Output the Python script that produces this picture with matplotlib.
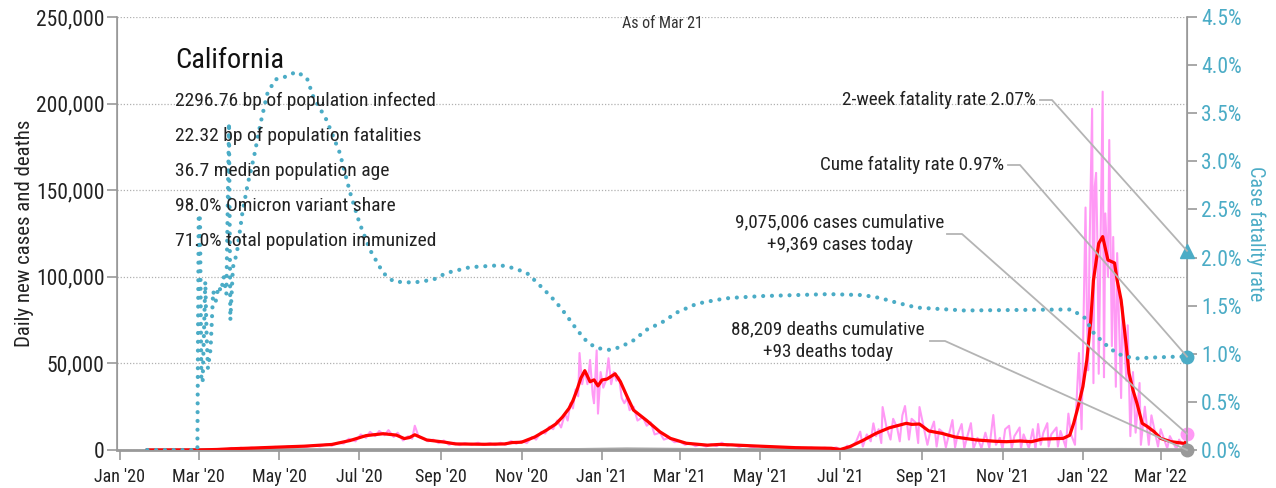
import matplotlib
matplotlib.use("Agg")
import matplotlib.pyplot as plt
import matplotlib.dates as mdates
from matplotlib import font_manager
from matplotlib.lines import Line2D
import pandas as pd
import numpy as np

# ---------------- data ----------------
avg_dates = ["2020-01-22","2020-03-01","2020-03-15","2020-03-25","2020-04-10","2020-05-01","2020-05-20",
    "2020-06-10","2020-06-24","2020-07-06","2020-07-19","2020-07-29","2020-08-04","2020-08-08","2020-08-12",
    "2020-08-21","2020-09-03","2020-09-12","2020-10-04","2020-10-19","2020-10-25","2020-11-01","2020-11-11",
    "2020-11-20","2020-11-27","2020-12-02","2020-12-07","2020-12-10","2020-12-13","2020-12-16","2020-12-19",
    "2020-12-23","2020-12-26","2020-12-29","2021-01-01","2021-01-05","2021-01-11","2021-01-15","2021-01-20",
    "2021-01-25","2021-02-04","2021-02-14","2021-02-22","2021-03-06","2021-03-22","2021-03-31","2021-04-08",
    "2021-04-28","2021-05-28","2021-06-24","2021-07-01","2021-07-08","2021-07-18","2021-07-28","2021-08-07",
    "2021-08-20","2021-08-24","2021-08-30","2021-09-06","2021-09-16","2021-09-26","2021-10-12","2021-10-27",
    "2021-11-04","2021-11-14","2021-11-23","2021-12-01","2021-12-17","2021-12-22","2021-12-25","2021-12-28",
    "2022-01-01","2022-01-04","2022-01-07","2022-01-09","2022-01-13","2022-01-16","2022-01-20","2022-01-25",
    "2022-01-27","2022-01-30","2022-02-03","2022-02-05","2022-02-08","2022-02-11","2022-02-15","2022-02-19",
    "2022-02-24","2022-03-01","2022-03-09","2022-03-19","2022-03-21"]
avg_cases = [0,50,300,700,1100,1700,2200,3200,5500,8300,9400,8600,6600,7200,8800,5800,4600,3500,3300,3500,
    4300,4500,7500,11500,15000,19000,24000,28500,34500,41500,45800,39400,40500,37000,40400,41000,44000,39500,
    31000,23000,17000,10500,6700,3900,2800,3200,3000,2300,1350,1000,300,1900,5500,9600,12800,15400,14800,15000,
    11000,9600,7500,5800,5000,4800,5200,4800,6300,6700,8500,15400,24000,36600,52000,75000,98000,119300,123200,
    109700,108000,98000,86600,59600,44300,34600,27000,15400,13500,10600,6700,4800,3800,5500]

daily_dates = ["2020-01-22","2020-03-01","2020-03-12","2020-03-18","2020-03-22","2020-03-26","2020-03-29",
    "2020-04-02","2020-04-06","2020-04-10","2020-04-14","2020-04-18","2020-04-23","2020-04-28","2020-05-03",
    "2020-05-08","2020-05-12","2020-05-17","2020-05-22","2020-05-27","2020-06-01","2020-06-06","2020-06-10",
    "2020-06-15","2020-06-19","2020-06-23","2020-06-28","2020-07-02","2020-07-06","2020-07-09","2020-07-13",
    "2020-07-16","2020-07-20","2020-07-23","2020-07-27","2020-07-30","2020-08-03","2020-08-07","2020-08-10",
    "2020-08-12","2020-08-15","2020-08-19","2020-08-22","2020-08-26","2020-08-30","2020-09-03","2020-09-07",
    "2020-09-11","2020-09-15","2020-09-19","2020-09-24","2020-09-29","2020-10-03","2020-10-08","2020-10-12",
    "2020-10-16","2020-10-20","2020-10-24","2020-10-28","2020-11-01","2020-11-05","2020-11-09","2020-11-12",
    "2020-11-16","2020-11-19","2020-11-22","2020-11-25","2020-11-28","2020-12-01","2020-12-04","2020-12-06",
    "2020-12-08","2020-12-10","2020-12-12","2020-12-14","2020-12-15","2020-12-17","2020-12-19","2020-12-21",
    "2020-12-23","2020-12-25","2020-12-26","2020-12-28","2020-12-29","2020-12-31","2021-01-02","2021-01-04",
    "2021-01-06","2021-01-08","2021-01-10","2021-01-12","2021-01-14","2021-01-16","2021-01-18","2021-01-20",
    "2021-01-22","2021-01-25","2021-01-28","2021-02-01","2021-02-04","2021-02-07","2021-02-10","2021-02-14",
    "2021-02-17","2021-02-21","2021-02-25","2021-03-01","2021-03-05","2021-03-09","2021-03-13","2021-03-17",
    "2021-03-21","2021-03-25","2021-03-29","2021-04-02","2021-04-06","2021-04-10","2021-04-15","2021-04-20",
    "2021-04-25","2021-04-30","2021-05-05","2021-05-10","2021-05-15","2021-05-20","2021-05-25","2021-05-30",
    "2021-06-04","2021-06-09","2021-06-14","2021-06-19","2021-06-24","2021-06-28","2021-07-01","2021-07-04",
    "2021-07-06","2021-07-09","2021-07-13","2021-07-16","2021-07-18","2021-07-21","2021-07-24","2021-07-26",
    "2021-07-28","2021-07-30","2021-08-01","2021-08-02","2021-08-05","2021-08-08","2021-08-10","2021-08-13",
    "2021-08-15","2021-08-17","2021-08-19","2021-08-22","2021-08-24","2021-08-27","2021-08-29","2021-08-30",
    "2021-09-02","2021-09-05","2021-09-07","2021-09-10","2021-09-12","2021-09-14","2021-09-17","2021-09-19",
    "2021-09-24","2021-09-26","2021-09-28","2021-10-01","2021-10-03","2021-10-05","2021-10-08","2021-10-10",
    "2021-10-13","2021-10-16","2021-10-19","2021-10-22","2021-10-25","2021-10-27","2021-10-30","2021-11-01",
    "2021-11-03","2021-11-06","2021-11-08","2021-11-10","2021-11-14","2021-11-15","2021-11-17","2021-11-21",
    "2021-11-24","2021-11-26","2021-11-28","2021-11-30","2021-12-02","2021-12-05","2021-12-06","2021-12-08",
    "2021-12-12","2021-12-13","2021-12-15","2021-12-19","2021-12-21","2021-12-23","2021-12-26","2021-12-27",
    "2021-12-29","2021-12-31","2022-01-03","2022-01-04","2022-01-05","2022-01-06","2022-01-08","2022-01-09",
    "2022-01-10","2022-01-11","2022-01-12","2022-01-13","2022-01-16","2022-01-17","2022-01-18","2022-01-20",
    "2022-01-21","2022-01-23","2022-01-24","2022-01-26","2022-01-27","2022-01-30","2022-01-31","2022-02-03",
    "2022-02-04","2022-02-06","2022-02-08","2022-02-10","2022-02-13","2022-02-14","2022-02-17","2022-02-20",
    "2022-02-22","2022-02-27","2022-03-01","2022-03-06","2022-03-08","2022-03-13","2022-03-15","2022-03-20",
    "2022-03-21"]
daily_cases = [0,30,150,600,300,1200,600,1300,800,1400,900,1500,1200,1800,1300,2100,1500,2300,1800,2700,2100,
    3400,2500,4200,3700,6500,5000,9000,7000,10500,8000,11000,8500,11500,7500,10000,5500,8000,6500,14000,7500,
    6500,5000,6000,4000,5500,3000,4200,2800,4000,3000,4200,2900,4000,2800,4200,3000,5200,3600,5200,4000,7500,
    6000,10500,9500,13500,12000,17000,13000,21000,17000,27000,24000,35000,31000,56000,38000,46000,38000,52000,
    32000,27000,57500,21000,45000,36000,40000,53000,38000,45000,40000,42000,30000,27000,30000,23000,25000,17000,
    19000,14000,16000,9000,10000,6000,7000,4500,5000,3000,4000,2200,3200,2000,3300,2200,4200,2500,3200,1800,2800,
    1500,2300,1200,1900,900,1700,800,1500,700,1400,600,1300,800,1500,0,0,2500,1500,5000,10600,2000,9000,5000,
    15400,8000,12000,4000,24800,13000,6000,18000,13000,5000,20000,25400,6000,18000,16000,4000,24800,14000,3000,
    10000,16400,2000,12000,10000,1500,17300,1500,9000,15000,1000,7000,15500,800,7000,1000,10000,1200,20200,3000,
    7000,500,12000,14000,1000,8000,13000,800,9000,1000,12000,500,15000,3000,10000,15500,2000,9000,13000,2000,
    11000,1500,21000,9000,3000,25000,56000,12000,140000,80000,46000,114500,197000,38600,152000,160000,120000,
    44000,206900,42000,136600,100000,179000,60000,123000,36500,113700,30000,82700,40000,72000,8000,45000,10000,
    38700,3000,25000,3000,20000,2000,12000,1000,8000,500,6000,500,9369]

death_dates = ["2020-01-22","2020-04-15","2020-08-01","2020-12-15","2021-01-20","2021-03-15","2021-08-30",
               "2022-01-30","2022-03-21"]
death_avg = [0,80,130,150,500,150,90,200,93]

rate_dates = ["2020-01-22","2020-02-29","2020-03-01","2020-03-02","2020-03-03","2020-03-04","2020-03-06",
    "2020-03-07","2020-03-08","2020-03-10","2020-03-12","2020-03-14","2020-03-16","2020-03-18","2020-03-20",
    "2020-03-22","2020-03-24","2020-03-25","2020-03-27","2020-03-30","2020-04-03","2020-04-07","2020-04-12",
    "2020-04-17","2020-04-22","2020-04-28","2020-05-06","2020-05-14","2020-05-22","2020-05-27","2020-06-06",
    "2020-06-16","2020-06-24","2020-07-01","2020-07-09","2020-07-19","2020-07-27","2020-08-11","2020-08-26",
    "2020-09-05","2020-09-23","2020-10-16","2020-10-26","2020-11-05","2020-11-12","2020-11-20","2020-11-27",
    "2020-12-04","2020-12-13","2020-12-21","2020-12-28","2021-01-07","2021-01-15","2021-01-25","2021-02-04",
    "2021-02-16","2021-02-27","2021-03-14","2021-03-29","2021-04-08","2021-05-03","2021-06-22","2021-07-18",
    "2021-07-31","2021-08-13","2021-08-28","2021-10-03","2021-12-17","2021-12-23","2022-01-02","2022-01-09",
    "2022-01-17","2022-01-27","2022-02-09","2022-02-21","2022-03-13","2022-03-21"]
rate_pct = [0,0,2.45,2.40,0.75,0.70,1.75,1.20,0.85,1.05,1.65,1.55,1.70,1.65,1.80,1.62,3.40,1.35,1.90,2.05,
    2.45,2.75,3.05,3.40,3.70,3.85,3.88,3.93,3.87,3.67,3.43,3.09,2.67,2.36,2.08,1.84,1.75,1.74,1.77,1.84,1.90,
    1.92,1.89,1.84,1.75,1.64,1.54,1.42,1.25,1.12,1.06,1.04,1.07,1.14,1.25,1.33,1.43,1.52,1.56,1.58,1.60,1.62,
    1.61,1.58,1.53,1.48,1.45,1.46,1.46,1.38,1.22,1.11,1.00,0.95,0.96,0.97,0.97]

two_week_rate = 2.07
cume_rate = 0.97
cases_today = 9369
deaths_today = 93

info_title = "California"
info_lines = ["2296.76 bp of population infected",
              "22.32 bp of population fatalities",
              "36.7 median population age",
              "98.0% Omicron variant share",
              "71.0% total population immunized"]
lbl_2wk = "2-week fatality rate 2.07%"
lbl_cume = "Cume fatality rate 0.97%"
lbl_cases = "9,075,006 cases cumulative\n+9,369 cases today"
lbl_deaths = "88,209 deaths cumulative\n+93 deaths today"

# ---------------- style ----------------
def pick_font(cands):
    for c in cands:
        try:
            font_manager.findfont(font_manager.FontProperties(family=c), fallback_to_default=False)
            return c
        except Exception:
            pass
    return "DejaVu Sans"

FONT = pick_font(["Liberation Sans Narrow", "Roboto Condensed", "Open Sans Condensed", "Roboto"])
plt.rcParams['font.family'] = [FONT, 'DejaVu Sans']

TEAL = "#4bacc6"
PINK = "#ff99f5"
RED = "#ff0000"
GRAY = "#a6a6a6"
W, H = 1276, 488

fig = plt.figure(figsize=(W/100, H/100), dpi=100)
fig.patch.set_facecolor("white")
ax = fig.add_axes([117/W, 1-450/H, (1187-117)/W, (450-17)/H])
ax2 = ax.twinx()

ad = pd.to_datetime(avg_dates)
dd = pd.to_datetime(daily_dates)
rd = pd.to_datetime(rate_dates)
ded = pd.to_datetime(death_dates)
end = pd.Timestamp("2022-03-21")

ax.plot(dd, daily_cases, color=PINK, lw=1.5, zorder=2)
ax.plot(ded, death_avg, color=GRAY, lw=2.5, zorder=2)
ax.plot(ad, avg_cases, color=RED, lw=2.3, zorder=3)
ax2.plot(rd, rate_pct, color=TEAL, lw=3.0, linestyle=(0, (0.01, 2.1)), dash_capstyle="round", zorder=3)

ax.set_xlim(pd.Timestamp("2019-12-30"), pd.Timestamp("2022-03-21"))
ax.set_ylim(0, 250000)
ax2.set_ylim(0, 4.5)

ax.set_yticks(np.arange(0, 250001, 50000))
ax.yaxis.set_major_formatter(matplotlib.ticker.FuncFormatter(lambda v, p: f"{int(v):,}"))
ax2.set_yticks(np.arange(0, 4.51, 0.5))
ax2.yaxis.set_major_formatter(matplotlib.ticker.FuncFormatter(lambda v, p: f"{v:.1f}%"))
ax.xaxis.set_major_locator(mdates.MonthLocator(bymonth=[1, 3, 5, 7, 9, 11]))
ax.xaxis.set_major_formatter(mdates.DateFormatter("%b '%y"))

ax.grid(axis="y", color="#b0b0b0", linestyle=(0, (1, 1.5)), lw=0.9)
ax.set_axisbelow(True)
for a in (ax, ax2):
    a.spines["top"].set_visible(False)
    for s in ("left", "right", "bottom"):
        a.spines[s].set_color("#999999")
ax.spines["bottom"].set_linewidth(2.0)
ax.spines["left"].set_linewidth(1.2)
ax2.spines["right"].set_linewidth(1.2)

ax.tick_params(axis="y", labelsize=15.5, colors="#999999", labelcolor="#222222", length=7, width=1.2, pad=2)
ax.tick_params(axis="x", labelsize=13, colors="#999999", labelcolor="#222222", length=7, width=1.2, pad=6)
ax2.tick_params(axis="y", labelsize=15.5, colors="#999999", labelcolor=TEAL, length=7, width=1.2, pad=3)

ax.set_ylabel("Daily new cases and deaths", fontsize=15, color="#222222", labelpad=1)
ax2.set_ylabel("Case fatality rate", fontsize=14.5, color=TEAL, rotation=270, labelpad=17)

# end markers
ax2.plot([end], [two_week_rate], marker="^", ms=10, color=TEAL, clip_on=False, zorder=6)
ax2.plot([end], [cume_rate], marker="o", ms=9, color=TEAL, clip_on=False, zorder=6)
ax2.plot([end], [0], marker="o", ms=9, color="#999999", clip_on=False, zorder=6)
ax.plot([end], [cases_today], marker="o", ms=9, color=PINK, clip_on=False, zorder=6)

# info text
def fx(px): return px / W
def fy(py): return 1 - py / H
fig.text(fx(175), fy(60), info_title, fontsize=20.5, color="#111111", va="center", ha="left")
for i, t in enumerate(info_lines):
    fig.text(fx(175), fy(101 + 35*i), t, fontsize=14, color="#222222", va="center", ha="left")
fig.text(fx(662), fy(23), "As of Mar 21", fontsize=11.5, color="#333333", ha="center", va="center")

# annotations with leader lines
fig.canvas.draw()
inv = fig.transFigure.inverted()
def disp_to_fig(a, x, y):
    return inv.transform(a.transData.transform((mdates.date2num(x), y)))

anns = [
    (lbl_2wk, 1036, 100, "right", 1040, 1052, 100, ax2, two_week_rate),
    (lbl_cume, 1004, 165, "right", 1008, 1020, 165, ax2, cume_rate),
    (lbl_cases, 840, 234, "center", 947, 962, 234, ax, cases_today),
    (lbl_deaths, 828, 341, "center", 930, 945, 341, ax, 0),
]
for txt, tx, ty, ha, lx0, lx1, ly, a, val in anns:
    fig.text(fx(tx), fy(ty), txt, fontsize=13.8, color="#222222", ha=ha, va="center",
             multialignment="center", linespacing=1.35)
    tgt = disp_to_fig(a, end, val)
    fig.add_artist(Line2D([fx(lx0), fx(lx1), tgt[0]], [fy(ly), fy(ly), tgt[1]],
                          color="#b4b4b4", lw=1.3, transform=fig.transFigure, zorder=5))

fig.savefig("out.png", dpi=100)
